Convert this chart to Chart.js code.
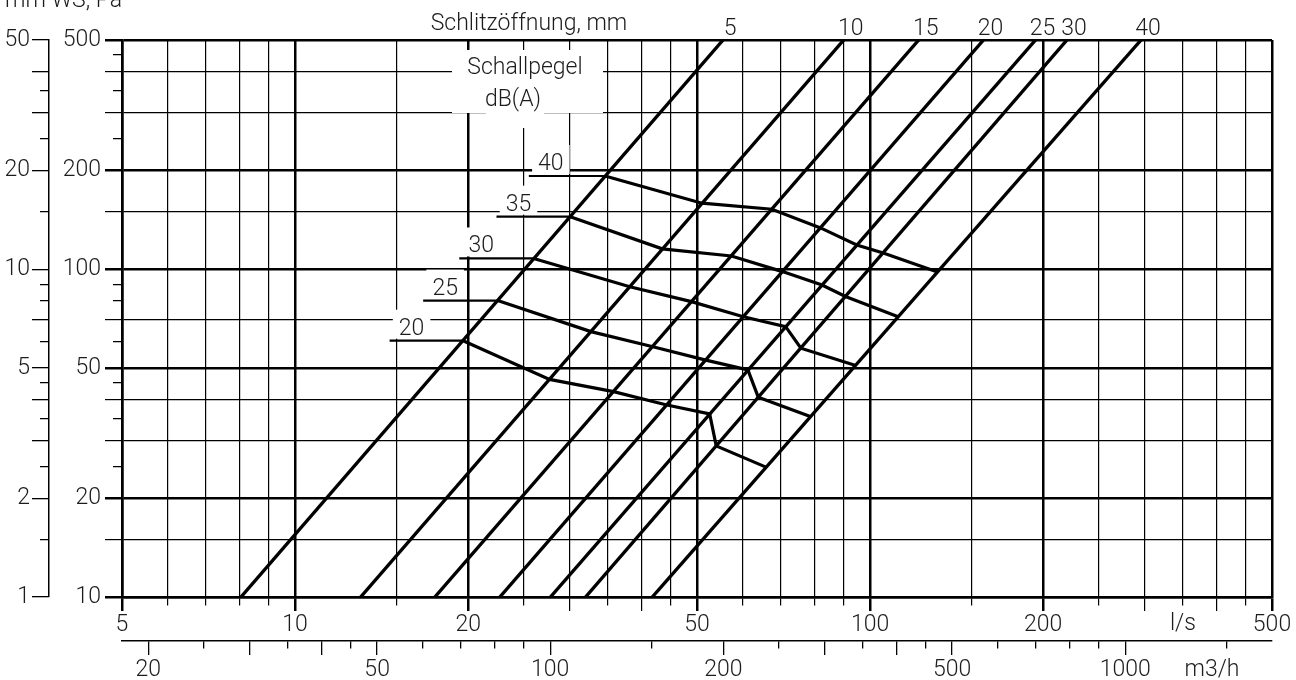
<!DOCTYPE html>
<html>
<head>
<meta charset="utf-8">
<title>Schlitzöffnung / Schallpegel</title>
<script src="https://cdn.jsdelivr.net/npm/chart.js@4.4.1/dist/chart.umd.min.js"></script>
<style>
  html, body { margin: 0; padding: 0; background: #fff; }
  #chart { display: block; width: 1296px; height: 680px; }
</style>
</head>
<body>
<canvas id="chart" width="1296" height="680"></canvas>
<script>
const FONT_FAMILY = 'Roboto, "Liberation Sans", sans-serif'
const FONT = {family: FONT_FAMILY, size: 23, weight: 300}
const INK = '#1c1c1c'

// l/s axis
const flowTicks = [5, 6, 7, 8, 9, 10, 15, 20, 25, 30, 35, 40, 45, 50, 60, 70, 80, 90, 100, 150, 200, 250, 300, 350, 400, 450, 500]
const flowLabels = [5, 10, 20, 50, 100, 200, 500]
const flowLongTicks = [5, 10, 20, 30, 40, 50, 100, 200, 300, 400, 500]

// m3/h axis
const m3hTicks = [20, 25, 30, 35, 40, 45, 50, 60, 70, 80, 90, 100, 150, 200, 250, 300, 350, 400, 450, 500, 600, 700, 800, 900, 1000, 1500]
const m3hLabels = [20, 50, 100, 200, 500, 1000]
const m3hLongTicks = [20, 30, 40, 50, 100, 200, 300, 400, 500, 1000]

// Pa axis
const paTicks = [10, 15, 20, 25, 30, 35, 40, 45, 50, 60, 70, 80, 90, 100, 150, 200, 250, 300, 350, 400, 450, 500]
const paGridValues = [10, 15, 20, 30, 40, 50, 70, 100, 150, 200, 300, 400, 500]
const paLabels = [10, 20, 50, 100, 200, 500]

// mm WS axis
const mmTicks = [1, 1.5, 2, 2.5, 3, 3.5, 4, 4.5, 5, 6, 7, 8, 9, 10, 15, 20, 25, 30, 35, 40, 50]
const mmLongTicks = [1, 2, 3, 4, 5, 7, 10, 20, 30, 40, 50]
const mmLabels = [1, 2, 5, 10, 20, 50]

// decade / 2 / 5 lines drawn heavy
const heavyValues = [5, 10, 20, 50, 100, 200, 500]

// Schlitzöffnung lines: flow at 10 Pa and at 500 Pa
const slotOpenings = [5, 10, 15, 20, 25, 30, 40]
const slotFlowLow = [8.05, 13.0, 17.5, 22.7, 27.8, 32.0, 41.8]
const slotFlowHigh = [55.5, 90.0, 121.5, 157.5, 194, 220, 296]
const slotPaLow = 10
const slotPaHigh = 500

// Schallpegel curves dB(A), first point = start of label leader
const soundLevels = [20, 25, 30, 35, 40]
const db20Flow = [14.6, 19.6, 27.7, 35.8, 44.3, 52.6, 54.0, 65.9]
const db20Pa = [60.5, 60.5, 46.1, 42.3, 38.5, 36.2, 28.9, 24.9]
const db25Flow = [16.7, 22.5, 32.7, 41.9, 51.8, 61.3, 63.9, 78.7]
const db25Pa = [80.2, 80.2, 64.5, 58.0, 52.8, 49.3, 40.7, 35.5]
const db30Flow = [19.3, 26.0, 38.2, 48.9, 60.2, 71.3, 75.8, 94.1]
const db30Pa = [107.8, 107.8, 88.4, 79.6, 71.6, 66.8, 57.4, 50.9]
const db35Flow = [22.4, 30.1, 43.5, 57.4, 70.4, 82.5, 90.6, 111.9]
const db35Pa = [144.6, 144.6, 115.3, 109.7, 98.3, 89.5, 82.5, 71.6]
const db40Flow = [25.5, 34.6, 51.0, 67.5, 82.0, 94.8, 105.4, 131.0]
const db40Pa = [192.4, 192.4, 158.9, 152.3, 133.6, 118.5, 112.0, 98.0]

const dbFlows = [db20Flow, db25Flow, db30Flow, db35Flow, db40Flow]
const dbPas = [db20Pa, db25Pa, db30Pa, db35Pa, db40Pa]

const datasets = []
slotOpenings.forEach((mm, i) => {
    datasets.push({
        label: 'Schlitz ' + mm + ' mm',
        data: [{x: slotFlowLow[i], y: slotPaLow}, {x: slotFlowHigh[i], y: slotPaHigh}],
        showLine: true,
        borderColor: '#000',
        borderWidth: 3.4,
        pointRadius: 0
    })
})
soundLevels.forEach((db, i) => {
    datasets.push({
        label: db + ' dB(A)',
        data: dbFlows[i].map((q, j) => ({x: q, y: dbPas[i][j]})),
        showLine: true,
        borderColor: '#000',
        borderWidth: 3.2,
        pointRadius: 0,
        segment: {borderWidth: c => c.p0DataIndex === 0 ? 2.2 : 3.2}
    })
})

const tv = c => c.tick ? c.tick.value : null
const setTicks = list => scale => { scale.ticks = list.map(v => ({value: v})) }

// texts that are not axis labels
const notesPlugin = {
    id: 'notes',
    beforeDatasetsDraw(chart) {
        const ctx = chart.ctx
        const sx = chart.scales.x, sy = chart.scales.y
        ctx.save()
        ctx.font = '300 23px ' + FONT_FAMILY
        ctx.textAlign = 'center'
        ctx.textBaseline = 'alphabetic'

        ctx.fillStyle = '#fff'
        ctx.fillRect(452, 50, 151, 63)
        ctx.fillRect(486, 110, 58, 18)
        ctx.fillStyle = INK
        ctx.fillText('Schallpegel', 525, 74)
        ctx.fillText('dB(A)', 513, 106)

        soundLevels.forEach((db, i) => {
            const px = sx.getPixelForValue(dbFlows[i][0]) + 22
            const base = sy.getPixelForValue(dbPas[i][0]) - 6
            const w = ctx.measureText(String(db)).width + 12
            ctx.fillStyle = '#fff'
            ctx.fillRect(px - w / 2, base - 25, w, 29)
            ctx.fillStyle = INK
            ctx.fillText(String(db), px, base)
        })

        slotOpenings.forEach((mm, i) => {
            ctx.fillText(String(mm), sx.getPixelForValue(slotFlowHigh[i]) + 7, 35)
        })
        ctx.fillText('Schlitzöffnung, mm', 529, 30)

        ctx.textAlign = 'left'
        ctx.fillText('mm WS, Pa', 5, 7)

        ctx.textAlign = 'center'
        ctx.textBaseline = 'middle'
        ctx.fillText('l/s', sx.getPixelForValue(350), 624)
        ctx.fillText('m3/h', 1212, 670)
        ctx.restore()
    }
}

const chart = new Chart(document.getElementById('chart'), {
    type: 'scatter',
    data: {datasets: datasets},
    plugins: [notesPlugin],
    options: {
        responsive: false,
        animation: false,
        events: [],
        layout: {padding: {left: 0, right: 24, top: 40, bottom: 0}},
        plugins: {legend: {display: false}, tooltip: {enabled: false}},
        elements: {line: {tension: 0}},
        scales: {
            x: {
                type: 'logarithmic', position: 'bottom', weight: 0, min: 5, max: 500,
                afterBuildTicks: setTicks(flowTicks),
                afterFit: s => { s.height = 44 },
                ticks: {autoSkip: false, minRotation: 0, maxRotation: 0, padding: 0, color: INK, font: FONT,
                    callback: v => flowLabels.includes(v) ? String(v) : ''},
                grid: {
                    color: '#000',
                    lineWidth: c => heavyValues.includes(tv(c)) ? 2.5 : 1.2,
                    tickLength: 14,
                    tickColor: '#000',
                    tickBorderDash: c => flowLongTicks.includes(tv(c)) ? [] : [7, 100]
                },
                border: {color: '#000', width: 2.5}
            },
            xm: {
                type: 'logarithmic', position: 'bottom', weight: 1, min: 18, max: 1800,
                afterBuildTicks: setTicks(m3hTicks),
                afterFit: s => { s.height = 39 },
                ticks: {autoSkip: false, minRotation: 0, maxRotation: 0, padding: 1, color: INK, font: FONT,
                    callback: v => m3hLabels.includes(v) ? String(v) : ''},
                grid: {
                    drawOnChartArea: false,
                    color: '#000',
                    lineWidth: 1.3,
                    tickLength: 14,
                    tickBorderDash: c => m3hLongTicks.includes(tv(c)) ? [] : [7, 100]
                },
                border: {color: '#000', width: 1.5}
            },
            y: {
                type: 'logarithmic', position: 'left', weight: 0, min: 10, max: 500,
                afterBuildTicks: setTicks(paTicks),
                afterFit: s => { s.width = 73 },
                ticks: {autoSkip: false, padding: 4, color: INK, font: FONT,
                    callback: v => paLabels.includes(v) ? String(v) : ''},
                grid: {
                    color: c => paGridValues.includes(tv(c)) ? '#000' : 'rgba(0,0,0,0)',
                    lineWidth: c => heavyValues.includes(tv(c)) ? 2.5 : 1.2,
                    tickLength: 17,
                    tickColor: '#000',
                    tickWidth: c => heavyValues.includes(tv(c)) ? 2.5 : 1.2,
                    tickBorderDash: c => paGridValues.includes(tv(c)) ? [] : [0, 8, 9, 100]
                },
                border: {color: '#000', width: 2.5}
            },
            mm: {
                type: 'logarithmic', position: 'left', weight: 1, min: 1, max: 50,
                afterBuildTicks: setTicks(mmTicks),
                afterFit: s => { s.width = 49 },
                ticks: {autoSkip: false, padding: 2, color: INK, font: FONT,
                    callback: v => mmLabels.includes(v) ? String(v) : ''},
                grid: {
                    drawOnChartArea: false,
                    color: '#000',
                    lineWidth: 1.3,
                    tickLength: 17,
                    tickBorderDash: c => mmLongTicks.includes(tv(c)) ? [] : [0, 8, 9, 100]
                },
                border: {color: '#000', width: 1.5}
            }
        }
    }
})
</script>
</body>
</html>
